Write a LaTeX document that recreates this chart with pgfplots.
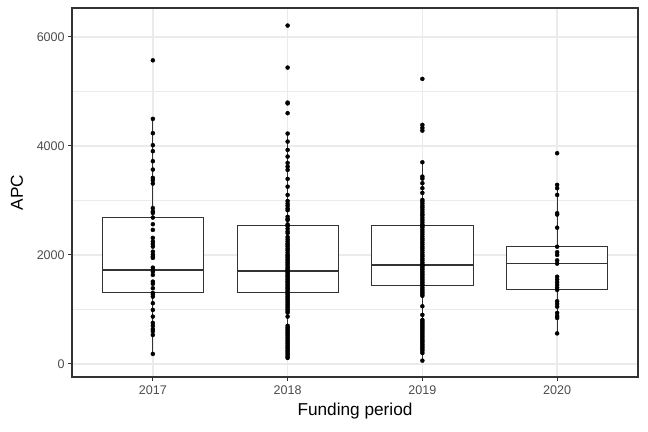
\documentclass[border=0pt]{standalone}
\usepackage{fontspec}
\setmainfont{Liberation Sans}
\usepackage{pgfplots}
\pgfplotsset{compat=1.18}
\definecolor{gTwenty}{HTML}{333333}
\definecolor{gThirty}{HTML}{4D4D4D}
\definecolor{gGrid}{HTML}{EBEBEB}
\pgfplotsset{
  dotcol/.style={only marks, mark=*, mark size=2.0bp, black, mark options={draw=black, fill=black}},
  boxln/.style={gTwenty, line width=0.8bp, mark=none},
  medln/.style={gTwenty, line width=1.7bp, mark=none},
}
\begin{document}
\begin{tikzpicture}
\useasboundingbox (-72bp,-55bp) rectangle (576bp,377bp);
\begin{axis}[
  at={(0,0)}, anchor=south west, scale only axis,
  width=566bp, height=369bp,
  xmin=0.4, xmax=4.6, ymin=-240, ymax=6530,
  xtick={1,2,3,4}, xticklabels={2017,2018,2019,2020},
  ytick={0,2000,4000,6000}, minor ytick={1000,3000,5000},
  scaled y ticks=false,
  /pgf/number format/assume math mode=true,
  yticklabel={\pgfmathprintnumber[fixed,1000 sep={}]{\tick}},
  tick label style={font=\fontsize{12.6}{14}\selectfont, text=gThirty},
  xticklabel style={yshift=-1bp},
  xmajorgrids, ymajorgrids, yminorgrids,
  major grid style={gGrid, line width=1.4bp},
  minor grid style={gGrid, line width=0.7bp},
  axis line style={gTwenty, line width=1.1bp},
  tick style={gTwenty, line width=1.1bp},
  major tick length=3.8bp, tick align=outside, tickpos=left,
  minor tick length=0pt,
]
% whiskers
\addplot[boxln] coordinates {(1,183) (1,4496)};
\addplot[boxln] coordinates {(2,110) (2,4226)};
\addplot[boxln] coordinates {(3,60) (3,3700)};
\addplot[boxln] coordinates {(4,560) (4,3285)};
% boxes (lower quartile, upper quartile)
\addplot[boxln, fill=white] coordinates {(0.625,1303) (1.375,1303) (1.375,2697) (0.625,2697)} -- cycle;
\addplot[boxln, fill=white] coordinates {(1.625,1303) (2.375,1303) (2.375,2550) (1.625,2550)} -- cycle;
\addplot[boxln, fill=white] coordinates {(2.625,1444) (3.375,1444) (3.375,2537) (2.625,2537)} -- cycle;
\addplot[boxln, fill=white] coordinates {(3.625,1364) (4.375,1364) (4.375,2147) (3.625,2147)} -- cycle;
% medians
\addplot[medln] coordinates {(0.625,1725) (1.375,1725)};
\addplot[medln] coordinates {(1.625,1706) (2.375,1706)};
\addplot[medln] coordinates {(2.625,1811) (3.375,1811)};
\addplot[medln] coordinates {(3.625,1840) (4.375,1840)};
% 2017
\addplot[dotcol] table[y=v, x expr=1] {
v
5570
4496
4233
4013
3903
3720
3566
3413
3371
3309
2860
2800
2770
2685
2563
2459
2312
2244
2200
2152
2060
2010
1970
1945
1767
1730
1693
1633
1510
1470
1389
1303
1280
1235
1114
991
868
752
700
640
600
532
183
};
% 2018
\addplot[dotcol] table[y=v, x expr=2] {
v
6208
5437
4795
4780
4600
4226
4079
3927
3804
3688
3620
3560
3395
3253
3101
2990
2940
2900
2850
2820
2700
2660
2640
2560
2530
2480
2430
2400
2330
2290
2250
2210
2180
2150
2110
2080
2040
2000
1980
1950
1920
1890
1860
1830
1800
1770
1740
1720
1700
1680
1650
1620
1600
1570
1540
1510
1490
1460
1430
1400
1380
1350
1320
1300
1270
1240
1210
1180
1150
1120
1090
1060
1030
1000
970
940
868
700
670
640
610
580
550
520
490
460
430
400
370
340
310
280
250
220
190
160
130
110
};
% 2019
\addplot[dotcol] table[y=v, x expr=3] {
v
5230
4386
4330
4280
3700
3437
3400
3315
3224
3138
3010
2980
2940
2900
2870
2830
2790
2750
2720
2680
2640
2600
2560
2530
2500
2460
2420
2380
2340
2300
2270
2230
2190
2150
2120
2080
2040
2000
1970
1930
1900
1860
1830
1811
1790
1760
1730
1700
1670
1640
1610
1580
1550
1520
1490
1460
1440
1400
1370
1340
1310
1280
1250
1058
900
807
780
750
720
690
660
630
600
570
540
510
480
450
420
390
360
330
300
270
240
200
60
};
% 2020
\addplot[dotcol] table[y=v, x expr=4] {
v
3866
3285
3224
3101
2765
2740
2500
2150
2050
2000
1900
1840
1600
1550
1500
1450
1400
1357
1150
1100
1050
935
880
844
560
};
\end{axis}
\node[font=\fontsize{17.3}{20}\selectfont, anchor=center] at (283bp,-34bp) {Funding period};
\node[font=\fontsize{17.3}{20}\selectfont, anchor=center, rotate=90] at (-55bp,184.5bp) {APC};
\end{tikzpicture}
\end{document}
